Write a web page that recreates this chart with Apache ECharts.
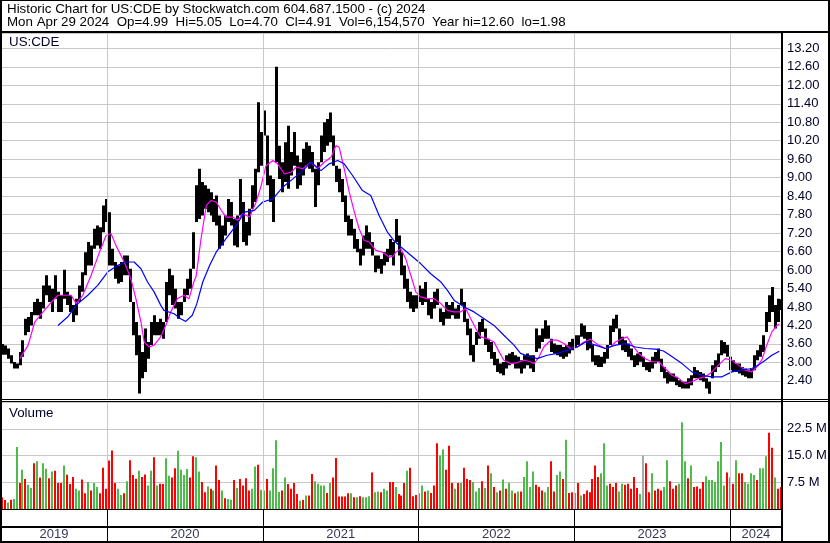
<!DOCTYPE html>
<html><head><meta charset="utf-8">
<script src="https://cdn.jsdelivr.net/npm/echarts@6/dist/echarts.min.js"></script>
<style>html,body{margin:0;padding:0;background:#fff;overflow:hidden}#c{width:830px;height:543px}</style>
</head><body><div id="c"></div><script>
// ---------- data (weekly, week 0 = 2019-04-29) ----------
const startDate = Date.UTC(2019, 3, 29);
const yearStarts = [2020, 2021, 2022, 2023, 2024];
const yearLabels = ['2019', '2020', '2021', '2022', '2023', '2024'];
const headerLine1 = 'Historic Chart for US:CDE by Stockwatch.com 604.687.1500 - (c) 2024';
const headerLine2 = 'Mon Apr 29 2024  Op=4.99  Hi=5.05  Lo=4.70  Cl=4.91  Vol=6,154,570  Year hi=12.60  lo=1.98';
const symbolName = 'US:CDE';

const priceLow = [
3.25,3.25,3.12,2.96,2.80,2.80,2.91,3.18,3.88,3.99,
4.20,4.53,4.53,4.42,4.75,5.18,4.96,4.64,5.07,4.64,
4.64,5.07,4.86,4.64,4.31,4.53,4.96,5.29,5.83,6.15,
6.15,6.69,6.80,6.69,7.23,7.56,6.15,6.15,5.72,5.56,
5.61,5.83,5.83,4.96,3.88,3.23,1.99,2.48,2.69,3.12,
3.56,3.88,3.88,3.88,3.77,4.31,5.18,4.86,4.75,4.42,
4.53,4.96,5.18,5.39,6.04,7.56,7.66,7.77,7.99,7.88,
7.77,7.56,7.45,6.69,6.80,7.12,7.56,7.45,6.80,6.74,
7.77,6.91,6.80,7.12,7.99,8.21,9.18,9.39,10.37,8.75,
8.21,7.56,9.50,8.96,8.53,8.86,8.64,9.07,9.39,8.64,
8.75,9.07,9.39,9.29,9.18,8.05,8.75,9.50,9.83,10.04,
10.15,9.39,8.86,8.53,8.21,7.56,7.12,7.12,6.69,6.58,
6.15,6.47,6.69,6.69,6.47,5.93,6.04,5.88,6.15,6.26,
6.47,6.15,6.91,6.47,5.83,5.39,4.96,4.75,4.64,4.75,
4.96,4.86,4.96,4.53,4.42,4.75,4.86,4.31,4.20,4.42,
4.42,4.53,4.42,4.42,4.86,4.31,3.88,3.23,3.02,3.56,
3.77,3.99,3.56,3.34,3.12,2.91,2.69,2.64,2.58,2.80,
2.91,2.96,2.80,2.80,2.64,2.80,2.91,2.80,2.69,3.34,
3.45,3.66,3.77,3.77,3.34,3.29,3.23,3.18,3.12,3.18,
3.29,3.39,3.50,3.56,3.83,3.77,3.39,3.45,3.02,2.91,
2.85,2.85,2.96,3.12,3.56,3.99,4.10,3.56,3.39,3.34,
3.18,3.07,2.85,2.91,3.02,2.85,2.74,2.69,2.80,2.96,
3.02,2.69,2.48,2.31,2.37,2.37,2.26,2.20,2.15,2.15,
2.15,2.26,2.48,2.48,2.42,2.37,2.15,1.98,2.48,2.69,
2.85,3.23,3.29,3.18,2.74,2.69,2.69,2.64,2.58,2.53,
2.48,2.48,2.74,3.07,3.18,3.34,3.99,4.31,4.64,4.10,
4.31,4.70];
const priceHigh = [
3.60,3.55,3.45,3.23,3.01,2.96,3.34,3.72,4.42,4.47,
4.64,4.96,5.07,4.96,5.50,5.83,5.50,5.39,5.83,5.29,
5.18,6.01,5.29,5.18,4.86,5.07,5.50,5.93,6.58,6.91,
6.80,7.34,7.45,7.39,8.10,8.31,7.88,6.69,6.26,6.15,
6.26,6.47,6.47,6.04,4.96,4.31,3.88,3.34,4.10,3.66,
4.31,4.53,4.31,4.42,4.31,5.61,6.04,5.83,5.39,4.96,
4.96,5.39,5.72,6.04,7.23,8.75,9.29,8.86,8.75,8.64,
8.53,8.31,8.42,7.77,7.45,7.77,8.31,8.21,7.66,7.77,
8.96,8.21,7.56,7.99,8.75,9.29,11.45,10.48,11.18,10.37,
9.07,8.96,12.60,10.04,9.50,10.15,10.69,9.83,10.48,9.72,
9.50,9.94,10.15,10.04,9.83,9.29,9.50,10.37,10.80,10.91,
11.12,10.37,9.39,9.29,8.96,8.42,7.77,7.66,7.34,7.01,
6.69,7.12,7.45,7.23,6.91,6.47,6.47,6.36,6.58,6.69,
7.01,6.91,7.66,7.12,6.58,6.15,5.72,5.29,5.18,5.18,
5.50,5.39,5.61,5.07,4.96,5.29,5.39,4.75,4.64,4.96,
4.86,4.96,4.75,4.86,5.39,4.96,4.42,4.10,3.56,3.99,
4.31,4.42,4.10,3.77,3.66,3.34,3.12,2.96,3.01,3.23,
3.29,3.34,3.23,3.18,3.07,3.23,3.29,3.23,3.23,4.10,
3.88,4.10,4.37,4.20,3.77,3.61,3.56,3.56,3.50,3.56,
3.66,3.77,3.88,3.88,4.26,4.20,3.99,3.99,3.56,3.23,
3.23,3.18,3.34,3.56,4.20,4.42,4.55,4.10,3.83,3.72,
3.61,3.45,3.23,3.29,3.34,3.18,3.01,3.01,3.18,3.34,
3.45,3.12,2.85,2.69,2.64,2.64,2.53,2.42,2.37,2.37,
2.48,2.58,2.85,2.74,2.69,2.64,2.48,2.37,2.91,3.07,
3.29,3.72,3.66,3.56,3.18,3.07,2.96,2.96,2.85,2.80,
2.74,2.80,3.23,3.39,3.56,3.88,4.64,5.18,5.45,4.86,
5.07,5.05];
// volume in millions per week
const volume = [
3.3,2.5,1.8,2.6,2.8,17.4,7.3,11.0,8.4,6.8,
5.9,12.8,13.4,8.8,12.8,11.3,8.6,10.5,10.7,7.3,
7.3,12.2,9.6,7.0,9.0,5.7,5.2,8.3,4.4,7.6,
5.2,7.3,6.2,4.4,11.6,5.7,13.6,16.4,7.3,5.7,
3.9,4.4,7.8,13.7,9.5,8.5,10.7,9.0,9.7,6.6,
10.7,14.5,6.6,7.1,7.0,14.2,9.3,8.8,11.4,16.3,
11.0,9.5,11.2,8.8,14.8,14.5,10.5,7.6,4.7,6.3,
5.7,5.2,12.2,8.1,5.2,3.0,2.8,2.6,8.1,5.9,
8.4,6.6,8.6,5.2,5.7,11.9,12.4,5.4,5.2,8.4,
5.2,11.4,19.3,4.8,5.2,8.8,7.0,5.7,7.3,4.2,
2.3,2.5,3.8,3.8,9.8,7.8,7.1,6.6,6.6,4.5,
7.3,8.8,14.3,3.5,3.5,3.5,4.4,4.4,3.3,3.3,
3.6,3.3,3.3,3.6,10.2,4.7,4.9,4.7,5.7,5.2,
7.6,7.6,6.2,4.2,3.8,7.3,10.7,11.6,3.6,3.9,
4.4,6.6,4.9,5.2,4.5,6.6,18.4,15.0,16.7,11.0,
17.7,7.3,5.7,7.3,7.3,11.6,8.4,8.1,7.6,4.9,
5.9,7.8,5.9,12.2,10.0,6.2,4.7,5.2,8.3,5.7,
7.3,5.2,4.4,4.9,4.9,9.0,13.4,6.2,10.5,6.8,
6.2,5.2,4.7,6.2,13.4,4.9,9.5,10.5,8.4,19.4,
4.5,4.7,4.5,7.3,3.8,4.2,5.2,4.7,8.4,12.2,
9.0,10.0,18.4,6.6,7.1,6.2,7.3,4.9,7.1,6.8,
7.1,5.7,9.0,5.9,4.2,15.0,12.8,4.7,10.0,5.2,
5.7,5.2,6.2,13.7,7.8,5.7,6.6,7.1,24.3,13.4,
8.6,12.2,6.2,6.3,5.7,7.6,9.2,8.1,8.1,7.6,
13.4,18.8,6.6,10.2,8.8,7.1,13.7,10.0,10.0,7.6,
7.1,10.0,9.5,8.1,11.4,11.4,14.8,21.4,17.2,8.8,
5.7,6.2];
// direction per week: u = up (green), d = down (red), n = unchanged (grey)
const volDir = [
'd','d','u','d','u','u','d','u','d','u',
'u','d','u','d','u','u','d','u','d','d',
'd','u','d','d','d','u','u','d','d','u',
'd','u','u','d','d','d','d','d','d','u',
'u','d','u','d','d','d','u','d','d','u',
'u','d','u','d','d','u','u','d','d','u',
'u','u','u','d','d','u','u','d','d','u',
'd','u','d','d','u','d','u','u','d','u',
'd','d','d','d','u','u','d','u','u','d',
'u','u','u','u','d','u','d','d','d','d',
'u','d','u','d','d','u','u','u','u','d',
'u','d','d','d','d','d','d','u','d','u',
'd','u','u','u','d','u','u','d','u','u',
'd','d','u','d','d','d','u','d','d','d',
'u','u','d','u','d','d','d','u','u','d',
'd','d','u','d','u','d','d','d','u','u',
'u','d','u','d','u','d','u','d','u','d',
'u','u','d','u','d','u','u','u','u','d',
'd','d','u','u','d','d','u','u','d','u',
'd','d','u','d','u','d','d','d','d','d',
'd','u','u','u','d','d','d','u','u','d',
'd','d','d','d','u','n','d','d','u','d',
'd','d','u','u','d','d','d','u','u','u',
'd','u','d','d','d','d','u','u','u','u',
'u','u','u','d','u','d','u','d','d','u',
'u','u','u','d','u','u','u','d','d','u',
'd','d'];
// moving averages: [week, price]
const maShort = [[6.1,3.12],[8.9,3.56],[11.1,4.31],[13.9,4.64],[16.7,4.96],[18.9,5.18],[23.3,5.18],[25,4.91],[27.2,5.18],[30,5.83],[32.8,6.58],[35,7.12],[36.7,7.18],[38.3,6.80],[41.1,6.26],[43.3,5.72],[45,5.07],[46.7,4.31],[47.8,3.66],[49.4,3.50],[51.1,3.56],[53.3,3.83],[55,4.20],[56.7,4.64],[58.9,5.07],[61.1,5.18],[62.8,5.07],[64.4,5.61],[65.2,5.80],[66.8,7.00],[68.6,8.10],[70.2,8.26],[71.9,8.21],[73.6,7.94],[75.2,7.72],[77.5,7.72],[79.2,7.61],[80.8,7.83],[83.1,7.72],[85.3,8.21],[87,8.75],[88.6,9.39],[90.9,9.56],[92.5,9.45],[94.8,9.12],[97,9.18],[98.7,9.34],[100.9,9.29],[103.7,9.50],[105.9,9.29],[108.1,9.50],[110.4,9.66],[112,10.04],[113.1,9.99],[114.8,9.29],[116.5,8.53],[118.2,7.88],[119.8,7.34],[121.5,6.96],[123.2,6.91],[125.4,6.64],[127.6,6.58],[129.9,6.42],[131.2,6.45],[132.1,6.58],[133.8,6.69],[135.4,6.37],[137.1,5.83],[138.8,5.29],[140.4,5.13],[142.7,5.07],[144.9,5.07],[147.2,4.91],[149.4,4.69],[151.6,4.64],[153.8,4.64],[155.5,4.75],[157.2,4.42],[158.9,4.10],[160.5,3.83],[162.8,3.77],[165,3.66],[166.7,3.34],[168.3,3.07],[170.6,2.96],[172.8,2.99],[175,3.07],[177.2,3.02],[178.4,2.96],[180.1,3.18],[181.7,3.50],[184,3.72],[186.2,3.72],[188.4,3.61],[190.6,3.45],[192.9,3.50],[195.1,3.66],[197.3,3.75],[200.1,3.56],[202.3,3.45],[204,3.50],[205.7,3.66],[207.9,3.77],[209.6,3.83],[211.3,3.56],[213.5,3.29],[215.7,3.12],[217.9,3.02],[220.2,3.02],[222.4,2.80],[224.6,2.58],[226.9,2.48],[229.1,2.31],[231.3,2.37],[233.6,2.48],[235.8,2.53],[238,2.69],[240.2,2.91],[242.5,3.12],[244.7,3.07],[246.9,2.91],[249.1,2.75],[251.4,2.69],[253,2.85],[254.7,3.07],[256.4,3.56],[258.1,3.99],[259.8,4.20],[260.6,4.25]];
const maLong = [[18.9,4.20],[22.2,4.48],[25,4.86],[28.9,5.18],[32.2,5.50],[35.6,5.94],[38.9,6.15],[41.7,6.26],[44.4,6.26],[46.7,6.04],[48.9,5.61],[51.1,5.29],[53.3,4.86],[54.4,4.69],[57.8,4.58],[60,4.42],[61.7,4.33],[63.9,4.53],[65.4,4.90],[67.4,5.61],[69.7,6.15],[71.9,6.58],[75.2,7.02],[78.6,7.45],[81.4,7.88],[84.7,7.94],[87.5,8.21],[90.9,8.31],[94.2,8.69],[97.6,8.96],[100.9,9.23],[103.7,9.50],[107,9.23],[109.8,9.45],[112.6,9.56],[114.8,9.45],[117.6,9.07],[120.9,8.58],[123.7,8.42],[126.5,7.77],[129.3,7.23],[131.5,6.95],[133.8,6.75],[137.1,6.48],[140.4,6.21],[143.8,5.88],[147.2,5.61],[149.4,5.34],[151.6,5.02],[155,4.80],[158.3,4.64],[161.7,4.42],[165,4.20],[168.3,3.88],[171.7,3.56],[173.9,3.29],[176.1,3.21],[179.5,3.12],[182.8,3.23],[186.2,3.29],[189.5,3.39],[192.9,3.50],[195.7,3.66],[199,3.56],[202.3,3.45],[205.7,3.56],[209,3.61],[212.4,3.50],[215.7,3.45],[219.1,3.43],[221.8,3.37],[224.7,3.18],[228,2.96],[231.3,2.69],[234.7,2.58],[238,2.53],[241.4,2.53],[244.7,2.69],[248.1,2.75],[251.4,2.80],[253.6,2.91],[255.9,3.07],[258.1,3.23],[260.6,3.36]];

// ---------- derived ----------
const WEEK = 7 * 86400000;
const X_MIN = -0.2, X_MAX = 261.5;
const yearBounds = yearStarts.map(y => (Date.UTC(y, 0, 1) - startDate) / WEEK);
const cellEdges = [X_MIN].concat(yearBounds, [X_MAX]);
const yearMids = yearLabels.map((t, i) => [(cellEdges[i] + cellEdges[i + 1]) / 2, 0.24, t]);
const FONT = '"Liberation Sans", Arial, sans-serif';
const GRID = '#c8c8c8';
const LABEL = '#000028';
const volColor = { u: '#4cbb4c', d: '#ff0000', n: '#a8a8a8' };

const chart = echarts.init(document.getElementById('c'));
const xAx = i => ({ type: 'value', gridIndex: i, min: X_MIN, max: X_MAX, show: false, splitLine: { show: false } });
const priceStep = 0.6;

function barItem(width, colorFn) {
  return function (params, api) {
    const x = api.value(0);
    const a = api.coord([x, api.value(1)]);
    const b = api.coord([x, api.value(2)]);
    const cx = Math.round(a[0]);
    return { type: 'rect', shape: { x: cx - 1, y: Math.min(a[1], b[1]), width: width, height: Math.max(1, Math.abs(a[1] - b[1])) },
      style: { fill: colorFn ? colorFn(params.dataIndex) : '#000' } };
  };
}

chart.setOption({
  animation: false,
  backgroundColor: '#fff',
  grid: [
    { left: 1, top: 33, width: 781, height: 366.3 },
    { left: 1, top: 402, width: 781, height: 107 },
    { left: 1, top: 509, width: 781, height: 33 }
  ],
  xAxis: [xAx(0), xAx(1), xAx(2)],
  yAxis: [
    { type: 'value', gridIndex: 0, position: 'right', min: 1.8, max: 13.7, interval: priceStep,
      axisLine: { show: false }, axisTick: { show: false },
      splitLine: { lineStyle: { color: GRID, width: 1 } },
      axisLabel: { margin: 5, color: LABEL, fontSize: 13, fontFamily: FONT, align: 'left',
        formatter: v => { const k = v / priceStep; return (v < 2 || Math.abs(k - Math.round(k)) > 1e-6) ? '' : v.toFixed(2); } } },
    { type: 'value', gridIndex: 1, position: 'right', min: 0, max: 30, interval: 7.5,
      axisLine: { show: false }, axisTick: { show: false },
      splitLine: { lineStyle: { color: GRID, width: 1 } },
      axisLabel: { margin: 5, color: LABEL, fontSize: 13, fontFamily: FONT, align: 'left',
        formatter: v => (v <= 0 || v >= 30) ? '' : v.toFixed(1) + ' M' } },
    { type: 'value', gridIndex: 2, min: 0, max: 1, show: false, splitLine: { show: false } }
  ],
  series: [
    { type: 'scatter', xAxisIndex: 0, yAxisIndex: 0, data: [[0, 5]], symbolSize: 0, silent: true, z: 1,
      markLine: { silent: true, symbol: 'none', label: { show: false }, lineStyle: { color: GRID, type: 'solid', width: 1 },
        data: yearBounds.map(w => ({ xAxis: w })) } },
    { type: 'scatter', xAxisIndex: 1, yAxisIndex: 1, data: [[0, 5]], symbolSize: 0, silent: true, z: 1,
      markLine: { silent: true, symbol: 'none', label: { show: false }, lineStyle: { color: GRID, type: 'solid', width: 1 },
        data: yearBounds.map(w => ({ xAxis: w })) } },
    { type: 'custom', xAxisIndex: 0, yAxisIndex: 0, z: 3, clip: true,
      encode: { x: 0, y: [1, 2] },
      data: priceLow.map((l, i) => [i, l, priceHigh[i]]),
      renderItem: barItem(3) },
    { type: 'line', xAxisIndex: 0, yAxisIndex: 0, z: 4, data: maShort, showSymbol: false, symbol: 'none',
      lineStyle: { color: '#ff00ff', width: 1.2 }, silent: true },
    { type: 'line', xAxisIndex: 0, yAxisIndex: 0, z: 4, data: maLong, showSymbol: false, symbol: 'none',
      lineStyle: { color: '#0000ff', width: 1.2 }, silent: true },
    { type: 'custom', xAxisIndex: 1, yAxisIndex: 1, z: 3, clip: true,
      encode: { x: 0, y: [1, 2] },
      data: volume.map((v, i) => [i, 0, v]),
      renderItem: barItem(2, i => volColor[volDir[i]]) },
    { type: 'scatter', xAxisIndex: 2, yAxisIndex: 2, data: yearMids, symbolSize: 0, silent: true, z: 5,
      label: { show: true, position: 'inside', formatter: p => p.value[2], color: LABEL, fontSize: 13, fontFamily: FONT },
      markLine: { silent: true, symbol: 'none', label: { show: false }, lineStyle: { color: '#000', type: 'solid', width: 1 },
        data: yearBounds.map(w => ({ xAxis: w })) } }
  ],
  graphic: { elements: [
    { type: 'rect', z: 100, shape: { x: 0, y: 0, width: 830, height: 1 }, style: { fill: '#000' } },
    { type: 'rect', z: 100, shape: { x: 0, y: 0, width: 2, height: 543 }, style: { fill: '#000' } },
    { type: 'rect', z: 100, shape: { x: 828, y: 0, width: 2, height: 543 }, style: { fill: '#000' } },
    { type: 'rect', z: 100, shape: { x: 0, y: 541, width: 830, height: 2 }, style: { fill: '#000' } },
    { type: 'rect', z: 100, shape: { x: 0, y: 31, width: 830, height: 2 }, style: { fill: '#000' } },
    { type: 'rect', z: 100, shape: { x: 781, y: 33, width: 2, height: 510 }, style: { fill: '#000' } },
    { type: 'rect', z: 100, shape: { x: 0, y: 399, width: 830, height: 1 }, style: { fill: '#000' } },
    { type: 'rect', z: 100, shape: { x: 0, y: 401, width: 830, height: 1 }, style: { fill: '#000' } },
    { type: 'rect', z: 100, shape: { x: 0, y: 509, width: 782, height: 1 }, style: { fill: '#000' } },
    { type: 'rect', z: 100, shape: { x: 0, y: 526, width: 782, height: 2 }, style: { fill: '#000' } },
    { type: 'text', z: 101, x: 7, y: 9.5, style: { text: headerLine1, fill: '#000', font: '13.33px ' + FONT, verticalAlign: 'middle', textVerticalAlign: 'middle' } },
    { type: 'text', z: 101, x: 7, y: 22.2, style: { text: headerLine2, fill: '#000', font: '13.33px ' + FONT, verticalAlign: 'middle', textVerticalAlign: 'middle' } },
    { type: 'text', z: 101, x: 9, y: 42, style: { text: symbolName, fill: LABEL, font: '13.33px ' + FONT, verticalAlign: 'middle', textVerticalAlign: 'middle' } },
    { type: 'text', z: 101, x: 9, y: 413, style: { text: 'Volume', fill: LABEL, font: '13.33px ' + FONT, verticalAlign: 'middle', textVerticalAlign: 'middle' } }
  ] }
});
</script></body></html>
